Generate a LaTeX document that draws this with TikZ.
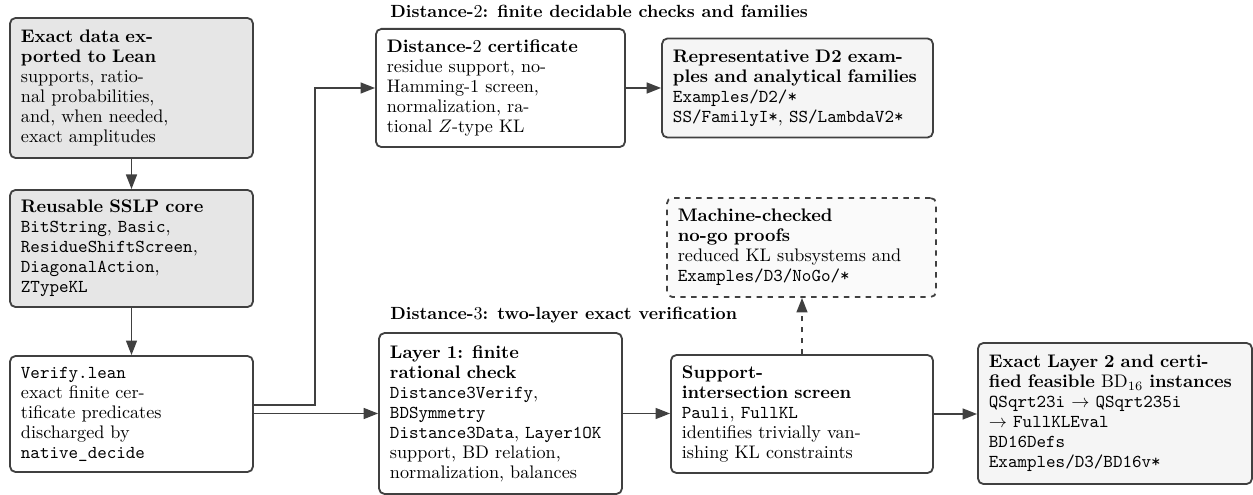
\documentclass[tikz,border=0pt]{standalone}
\usetikzlibrary{arrows.meta}
\definecolor{linec}{HTML}{404040}
\definecolor{fillcore}{HTML}{E6E6E6}
\definecolor{fillres}{HTML}{F5F5F5}
\definecolor{fillnogo}{HTML}{FAFAFA}
\tikzset{
  box/.style={draw=linec, line width=1pt, rounded corners=3pt, align=left,
    inner xsep=6pt, inner ysep=5pt, font=\fontsize{10pt}{11pt}\selectfont, fill=white},
  arr/.style={draw=linec, line width=1pt, -{Triangle[length=8pt,width=6pt]}},
  seclabel/.style={font=\fontsize{9.7pt}{11pt}\selectfont\bfseries, anchor=base west, inner sep=0pt},
}
\begin{document}
\begin{tikzpicture}[x=0.55pt,y=-0.55pt]
\useasboundingbox (0,0) rectangle (1253,495);

% left column: data, core library, verifier
\node[box, fill=fillcore, text width=121.6pt, minimum height=77pt] (A) at (131.5,88)
  {\textbf{Exact data ex-\\ported to Lean}\\supports, ratio-\\nal probabilities,\\and, when needed,\\exact amplitudes};
\node[box, fill=fillcore, text width=121.6pt, minimum height=64.4pt] (B) at (131.5,248.5)
  {\textbf{Reusable SSLP core}\\\texttt{BitString}, \texttt{Basic},\\\texttt{ResidueShiftScreen},\\\texttt{DiagonalAction},\\\texttt{ZTypeKL}};
\node[box, text width=121.6pt, minimum height=63.8pt] (C) at (131.5,414)
  {\texttt{Verify.lean}\\exact finite cer-\\tificate predicates\\discharged by\\\texttt{native\_decide}};

% distance-2 row
\node[seclabel] (lab2) at (390,18) {Distance-$2$: finite decidable checks and families};
\node[box, text width=125pt, minimum height=65pt] (D) at (500.5,88)
  {\textbf{Distance-$2$ certificate}\\residue support, no-\\Hamming-1 screen,\\normalization, ra-\\tional $Z$-type KL};
\node[box, fill=fillres, text width=137pt, minimum height=54.5pt] (E) at (797.5,88)
  {\textbf{Representative D2 exam-\\ples and analytical families}\\\texttt{Examples/D2/*}\\\texttt{SS/FamilyI*}, \texttt{SS/LambdaV2*}};

% no-go branch
\node[box, dashed, fill=fillnogo, text width=136pt, minimum height=54.5pt] (F) at (801.5,247.5)
  {\textbf{Machine-checked\\no-go proofs}\\reduced KL subsystems and\\\texttt{Examples/D3/NoGo/*}};

% distance-3 row
\node[seclabel] (lab3) at (390,320) {Distance-$3$: two-layer exact verification};
\node[box, text width=121.6pt, minimum height=88.5pt] (G) at (500.5,413.5)
  {\textbf{Layer 1: finite\\rational check}\\\texttt{Distance3Verify},\\\texttt{BDSymmetry}\\\texttt{Distance3Data}, \texttt{Layer1OK}\\support, BD relation,\\normalization, balances};
\node[box, text width=132.1pt, minimum height=64.9pt] (H) at (802,414)
  {\textbf{Support-\\intersection screen}\\\texttt{Pauli}, \texttt{FullKL}\\identifies trivially van-\\ishing KL constraints};
\node[box, fill=fillres, text width=138.7pt, minimum height=77.6pt] (I) at (1115,413.5)
  {\textbf{Exact Layer 2 and certi-\\fied feasible $\mathrm{BD}_{16}$ instances}\\\texttt{QSqrt23i} $\rightarrow$ \texttt{QSqrt235i}\\$\rightarrow$ \texttt{FullKLEval}\\\texttt{BD16Defs}\\\texttt{Examples/D3/BD16v*}};

% connectors
\coordinate (bend) at (315,405);
\draw[arr] (A.south) -- (B.north);
\draw[arr] (B.south) -- (C.north);
\draw[arr] (C.east |- bend) -- (bend) |- (D.west);
\draw[arr] (C.east |- G.west) -- (G.west);
\draw[arr] (D.east) -- (E.west |- D.east);
\draw[arr] (G.east) -- (H.west |- G.east);
\draw[arr] (H.east) -- (I.west |- H.east);
\draw[arr, dashed] (H.north) -- (H.north |- F.south);
\end{tikzpicture}
\end{document}
